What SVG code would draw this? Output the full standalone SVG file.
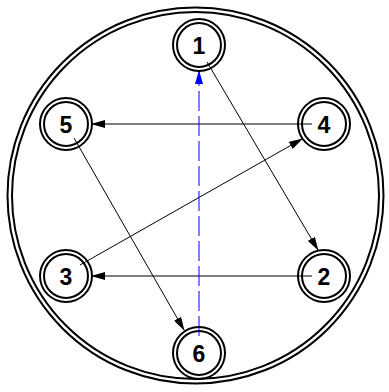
<svg xmlns="http://www.w3.org/2000/svg" width="389" height="392" viewBox="0 0 389 392">
<style>
.ring{fill:none;stroke:#000;stroke-width:2}
.lbl{font-family:"Liberation Sans",Arial,sans-serif;font-weight:bold;font-size:23px;text-anchor:middle;dominant-baseline:central;fill:#000}
.c{stroke:#000;stroke-width:1;fill:none}
.b{stroke:#0000ff;stroke-width:1;fill:none;stroke-dasharray:20 5}
</style>
<defs>
<marker id="ah" markerWidth="14" markerHeight="8" refX="13" refY="4" orient="auto" markerUnits="userSpaceOnUse"><path d="M0,0 L14,4 L0,8 z" fill="#000"/></marker>
<marker id="ahb" markerWidth="14" markerHeight="8" refX="13" refY="4" orient="auto" markerUnits="userSpaceOnUse"><path d="M0,0 L14,4 L0,8 z" fill="#0000ff"/></marker>
</defs>
<g id="frame">
<circle class="ring" cx="195.5" cy="195.5" r="188"/>
<circle class="ring" cx="195.5" cy="195.5" r="183.5"/>
</g>
<g id="connectors">
<line class="c" x1="207" y1="62" x2="318" y2="250" marker-end="url(#ah)"/>
<line class="c" x1="312" y1="276" x2="92" y2="276" marker-end="url(#ah)"/>
<line class="c" x1="80" y1="265" x2="302" y2="139" marker-end="url(#ah)"/>
<line class="c" x1="312" y1="124" x2="92" y2="124" marker-end="url(#ah)"/>
<line class="c" x1="74" y1="138" x2="184" y2="330" marker-end="url(#ah)"/>
<line class="b" x1="199" y1="336" x2="199" y2="71" marker-end="url(#ahb)"/>
</g>
<g id="n1"><circle class="ring" cx="199" cy="45" r="26"/><circle class="ring" cx="199" cy="45" r="22"/><text class="lbl" x="199" y="46">1</text></g>
<g id="n2"><circle class="ring" cx="324" cy="276" r="26"/><circle class="ring" cx="324" cy="276" r="22"/><text class="lbl" x="324" y="277">2</text></g>
<g id="n3"><circle class="ring" cx="66" cy="276" r="26"/><circle class="ring" cx="66" cy="276" r="22"/><text class="lbl" x="66" y="277">3</text></g>
<g id="n4"><circle class="ring" cx="324" cy="124" r="26"/><circle class="ring" cx="324" cy="124" r="22"/><text class="lbl" x="324" y="125">4</text></g>
<g id="n5"><circle class="ring" cx="66" cy="124" r="26"/><circle class="ring" cx="66" cy="124" r="22"/><text class="lbl" x="66" y="125">5</text></g>
<g id="n6"><circle class="ring" cx="199" cy="353" r="26"/><circle class="ring" cx="199" cy="353" r="22"/><text class="lbl" x="199" y="354">6</text></g>
</svg>
